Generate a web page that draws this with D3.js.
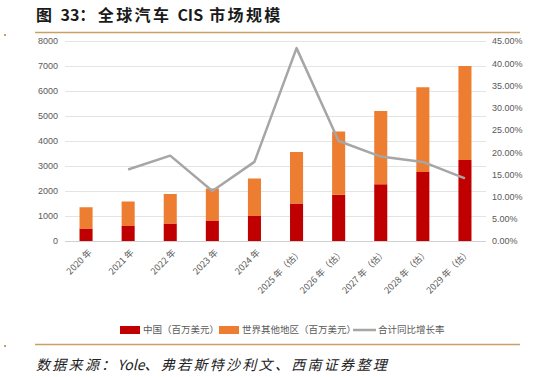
<!DOCTYPE html>
<html>
<head>
<meta charset="utf-8">
<script src="https://cdn.jsdelivr.net/npm/d3@7"></script>
<style>
  body { margin: 0; background: #fff; }
  svg { display: block; font-family: "Noto Sans CJK SC", "DejaVu Sans", sans-serif; }
</style>
</head>
<body>
<div id="chart"></div>
<script>
// 数据（单位：百万美元）
const years = ["2020 年", "2021 年", "2022 年", "2023 年", "2024 年",
  "2025 年（估）", "2026 年（估）", "2027 年（估）", "2028 年（估）", "2029 年（估）"];
const chinaValues = [500, 600, 700, 800, 1000, 1500, 1850, 2270, 2760, 3240];
const restValues = [850, 980, 1180, 1300, 1500, 2060, 2530, 2930, 3390, 3760];
const growthRates = [null, 0.161, 0.192, 0.1125, 0.178, 0.434, 0.225, 0.19, 0.178, 0.141];
const leftTicks = [0, 1000, 2000, 3000, 4000, 5000, 6000, 7000, 8000];
const rightTicks = [0, 0.05, 0.10, 0.15, 0.20, 0.25, 0.30, 0.35, 0.40, 0.45];
const seriesNames = ["中国（百万美元）", "世界其他地区（百万美元）", "合计同比增长率"];

const width = 536, height = 377;
const gold = "#c9a063";
const colors = ["#c00000", "#ed7d31", "#a6a6a6"];

const svg = d3.select("#chart").append("svg")
  .attr("width", width)
  .attr("height", height);

// 中文部分加字距，英文数字保持原样
function spacedText(sel, parts, spacing) {
  parts.forEach(p => {
    sel.append("tspan")
      .style("letter-spacing", /[A-Za-z0-9]/.test(p) ? "0px" : spacing)
      .text(p);
  });
}

// 标题
const title = svg.append("text")
  .attr("x", 36).attr("y", 21)
  .style("font-size", "16px")
  .style("font-weight", "bold")
  .attr("fill", "#1a1a1a");
spacedText(title, ["图 ", "33", "：全球汽车 ", "CIS", " 市场规模"], "2.4px");

svg.append("line")
  .attr("x1", 35).attr("x2", 520).attr("y1", 32.5).attr("y2", 32.5)
  .attr("stroke", gold).attr("stroke-width", 1.5);
svg.append("rect").attr("x", 4).attr("y", 34).attr("width", 2).attr("height", 2).attr("fill", gold);

// 比例尺
const x = d3.scaleBand().domain(years).range([65, 486]).paddingInner(0.69).paddingOuter(0.345);
const y = d3.scaleLinear().domain([0, 8000]).range([241, 41]);
const y2 = d3.scaleLinear().domain([0, 0.45]).range([241, 41]);

// 网格线
svg.append("g")
  .selectAll("line")
  .data(leftTicks)
  .join("line")
  .attr("x1", 65).attr("x2", 486)
  .attr("y1", d => Math.round(y(d)) + 0.5).attr("y2", d => Math.round(y(d)) + 0.5)
  .attr("stroke", d => d === 0 ? "#d0d0d0" : "#e4e4e4")
  .attr("stroke-width", 1);

// 左轴
const leftAxis = svg.append("g")
  .attr("transform", "translate(65,0)")
  .call(d3.axisLeft(y).tickValues(leftTicks).tickSize(0).tickPadding(7).tickFormat(d3.format("d")));
leftAxis.select(".domain").remove();
leftAxis.selectAll("text").style("font-size", "9px").attr("fill", "#595959")
  .style("font-family", "'Liberation Sans', Arial, sans-serif");

// 右轴
const rightAxis = svg.append("g")
  .attr("transform", "translate(486,0)")
  .call(d3.axisRight(y2).tickValues(rightTicks).tickSize(0).tickPadding(6)
    .tickFormat(d => (d * 100).toFixed(2) + "%"));
rightAxis.select(".domain").remove();
rightAxis.selectAll("text").style("font-size", "9px").attr("fill", "#595959")
  .style("font-family", "'Liberation Sans', Arial, sans-serif");

// 堆叠柱
const stackData = years.map((k, i) => ({ key: k, china: chinaValues[i], rest: restValues[i] }));
const stack = d3.stack().keys(["china", "rest"])(stackData);

svg.append("g")
  .selectAll("g")
  .data(stack)
  .join("g")
  .attr("fill", (d, i) => colors[i])
  .selectAll("rect")
  .data(d => d)
  .join("rect")
  .attr("x", d => x(d.data.key))
  .attr("width", x.bandwidth())
  .attr("y", d => y(d[1]))
  .attr("height", d => y(d[0]) - y(d[1]));

// 增长率折线
const lineData = years.map((k, i) => ({ key: k, v: growthRates[i] })).filter(d => d.v !== null);
svg.append("path")
  .datum(lineData)
  .attr("fill", "none")
  .attr("stroke", colors[2])
  .attr("stroke-width", 2.5)
  .attr("stroke-linejoin", "round")
  .attr("d", d3.line()
    .x(d => x(d.key) + x.bandwidth() / 2)
    .y(d => y2(d.v)));

// X 轴标签（倾斜 45 度）
svg.append("g")
  .selectAll("text")
  .data(years)
  .join("text")
  .attr("transform", d => `translate(${x(d) + x.bandwidth() / 2 + 4},${251}) rotate(-45)`)
  .attr("text-anchor", "end")
  .attr("dy", "0.35em")
  .style("font-size", "9px")
  .attr("fill", "#595959")
  .text(d => d);

// 图例
const legend = svg.append("g").attr("transform", "translate(0,330)");
const legendItems = [
  { x: 120, type: "rect", color: colors[0], name: seriesNames[0] },
  { x: 219, type: "rect", color: colors[1], name: seriesNames[1] },
  { x: 353, type: "line", color: colors[2], name: seriesNames[2] }
];
legendItems.forEach(item => {
  if (item.type === "rect") {
    legend.append("rect").attr("x", item.x).attr("y", -4).attr("width", 20).attr("height", 8).attr("fill", item.color);
  } else {
    legend.append("line").attr("x1", item.x).attr("x2", item.x + 23).attr("y1", 0).attr("y2", 0)
      .attr("stroke", item.color).attr("stroke-width", 2.5);
  }
  legend.append("text")
    .attr("x", item.x + (item.type === "rect" ? 23 : 25))
    .attr("dy", "0.35em")
    .style("font-size", "9.5px")
    .attr("fill", "#595959")
    .text(item.name);
});

// 底部来源
svg.append("line")
  .attr("x1", 35).attr("x2", 520).attr("y1", 344.5).attr("y2", 344.5)
  .attr("stroke", gold).attr("stroke-width", 1.5);
svg.append("rect").attr("x", 4).attr("y", 345).attr("width", 2).attr("height", 2).attr("fill", gold);

const source = svg.append("text")
  .attr("x", 36).attr("y", 370)
  .style("font-size", "14px")
  .style("font-style", "italic")
  .attr("fill", "#222");
spacedText(source, ["数据来源：", "Yole", "、弗若斯特沙利文、西南证券整理"], "2.3px");
</script>
</body>
</html>
